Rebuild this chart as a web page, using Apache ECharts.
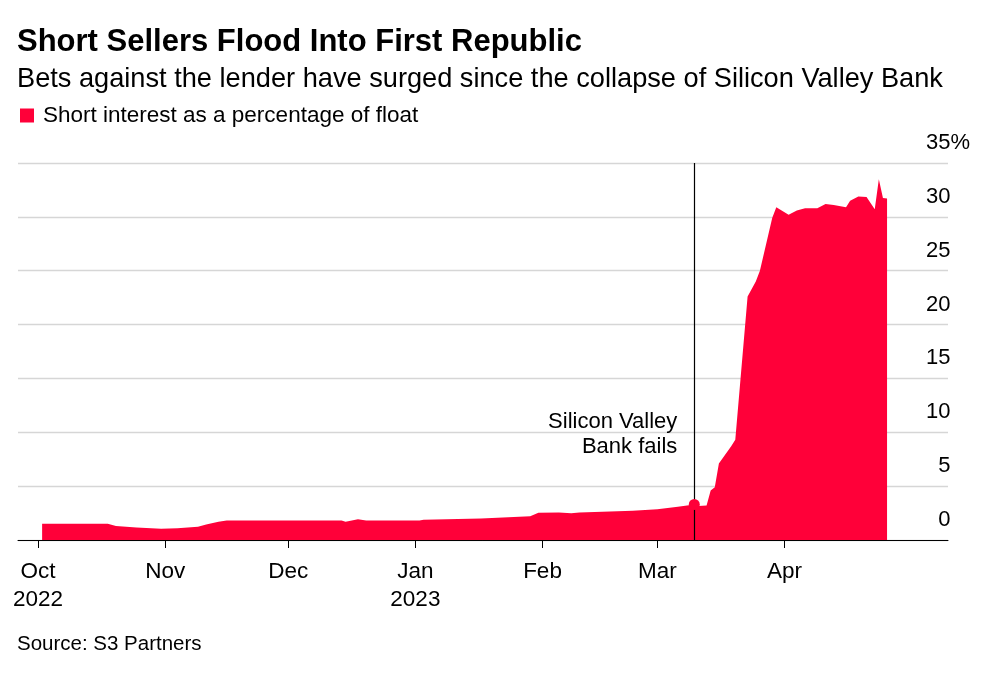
<!DOCTYPE html>
<html>
<head>
<meta charset="utf-8">
<script src="https://cdn.jsdelivr.net/npm/echarts@6/dist/echarts.min.js"></script>
<style>
  html, body { margin: 0; padding: 0; background: #fff; }
  #chart { width: 1000px; height: 678px; }
</style>
</head>
<body>
<div id="chart"></div>
<script>
// ---- Data ----
const dates = ['2022-10-02','2022-10-18','2022-10-20','2022-10-25','2022-10-31','2022-11-04','2022-11-09','2022-11-11','2022-11-14','2022-11-16',
  '2022-12-14','2022-12-15','2022-12-18','2022-12-20','2023-01-02','2023-01-03','2023-01-17','2023-01-29','2023-01-31','2023-02-05',
  '2023-02-08','2023-02-10','2023-02-23','2023-03-01','2023-03-06','2023-03-10','2023-03-11','2023-03-13','2023-03-14','2023-03-15',
  '2023-03-16','2023-03-19','2023-03-20','2023-03-23','2023-03-25','2023-03-26','2023-03-29','2023-03-30','2023-04-02','2023-04-04',
  '2023-04-06','2023-04-09','2023-04-11','2023-04-13','2023-04-16','2023-04-17','2023-04-19','2023-04-21','2023-04-23','2023-04-24',
  '2023-04-25','2023-04-26'];
const shortInterest = [1.5,1.5,1.3,1.15,1.05,1.08,1.22,1.45,1.7,1.8,
  1.8,1.7,1.92,1.8,1.8,1.88,2.0,2.2,2.53,2.55,
  2.48,2.55,2.72,2.85,3.09,3.3,3.15,3.2,4.6,4.9,
  7.1,8.7,9.3,22.6,24.0,25.0,29.9,30.9,30.2,30.6,
  30.8,30.8,31.2,31.1,30.9,31.5,31.9,31.85,30.7,33.5,
  31.75,31.7];
const monthTicks = ['2022-10-01','2022-11-01','2022-12-01','2023-01-01','2023-02-01','2023-03-01','2023-04-01'];
const monthLabels = ['Oct\n2022','Nov','Dec','Jan\n2023','Feb','Mar','Apr'];
const yTicks = [0,5,10,15,20,25,30,35];
const eventDate = '2023-03-10';
const eventValue = 3.3;
const eventLabel = 'Silicon Valley\nBank fails';
const seriesName = 'Short interest as a percentage of float';
const titleText = 'Short Sellers Flood Into First Republic';
const subtitleText = 'Bets against the lender have surged since the collapse of Silicon Valley Bank';
const sourceText = 'Source: S3 Partners';

// ---- Chart ----
const FONT = "'Liberation Sans', Arial, Helvetica, sans-serif";
const RED = '#ff0039';
const DAY = 86400000;
const parseLocal = s => { const p = s.split('-').map(Number); return new Date(p[0], p[1]-1, p[2]).getTime(); };
const oct1 = parseLocal('2022-10-01');
const xMin = oct1 - 4.88 * DAY;
const xMax = oct1 + 221.86 * DAY;
const tickVals = monthTicks.map(parseLocal);
const eventX = parseLocal(eventDate);

const chart = echarts.init(document.getElementById('chart'), null, { renderer: 'canvas' });
const option = {
  animation: false,
  backgroundColor: '#fff',
  textStyle: { fontFamily: FONT },
  title: [
    { text: titleText, left: 12, top: 22, textStyle: { fontFamily: FONT, fontSize: 31, fontWeight: 'bold', color: '#000' } },
    { text: subtitleText, left: 12, top: 61, textStyle: { fontFamily: FONT, fontSize: 27.2, fontWeight: 'normal', color: '#000' } },
    { text: sourceText, left: 12, top: 629, textStyle: { fontFamily: FONT, fontSize: 20.5, fontWeight: 'normal', color: '#000' } }
  ],
  legend: {
    left: 15, top: 99, icon: 'rect', itemWidth: 14, itemHeight: 14, itemGap: 9,
    textStyle: { fontFamily: FONT, fontSize: 22.5, color: '#000', padding: [0, 0, 0, 4] },
    data: [seriesName]
  },
  grid: { left: 18, right: 52, top: 163, bottom: 138, containLabel: false },
  xAxis: {
    type: 'value', min: xMin, max: xMax,
    axisLine: { show: true, onZero: false, lineStyle: { color: '#000', width: 1 } },
    axisTick: { show: true, customValues: tickVals, length: 8, lineStyle: { color: '#000', width: 1 } },
    axisLabel: {
      customValues: tickVals, margin: 18, fontFamily: FONT, fontSize: 22.5, color: '#000', lineHeight: 28,
      formatter: v => { const i = tickVals.indexOf(v); return i >= 0 ? monthLabels[i] : ''; }
    },
    splitLine: { show: false }
  },
  yAxis: {
    type: 'value', position: 'right', min: 0, max: 35, interval: 5,
    axisLine: { show: false }, axisTick: { show: false },
    splitLine: { show: true, lineStyle: { color: '#d6d6d6', width: 1.3 } },
    axisLabel: {
      align: 'right', margin: 22, verticalAlign: 'bottom', padding: [0, 0, 9, 0],
      formatter: v => v === 35 ? '{n|' + v + '}{p|%}' : '{n|' + v + '}{h|%}',
      rich: {
        n: { fontFamily: FONT, fontSize: 22, color: '#000' },
        p: { fontFamily: FONT, fontSize: 22, color: '#000' },
        h: { fontFamily: FONT, fontSize: 22, color: 'rgba(0,0,0,0)' }
      }
    }
  },
  series: [{
    name: seriesName, type: 'line', color: RED,
    data: dates.map((d, i) => [parseLocal(d), shortInterest[i]]),
    showSymbol: false, symbol: 'none',
    lineStyle: { width: 0 },
    areaStyle: { color: RED, opacity: 1 },
    markLine: {
      silent: true, symbol: 'none', animation: false,
      lineStyle: { color: '#000', width: 1.2, type: 'solid' },
      label: { show: false },
      data: [{ xAxis: eventX }]
    },
    markPoint: {
      silent: true, animation: false,
      symbol: 'circle', symbolSize: 11,
      itemStyle: { color: RED },
      label: { show: false },
      data: [{ coord: [eventX, eventValue] }]
    },
    z: 2
  }]
};
chart.setOption(option);

// annotation text anchored to the event date through the axis scale
const anchor = chart.convertToPixel({ gridIndex: 0 }, [eventX, 9.8]);
chart.setOption({
  graphic: [{
    type: 'text', x: anchor[0] - 17, y: anchor[1],
    style: { text: eventLabel, fontFamily: FONT, fontSize: 22, fill: '#000', align: 'right', verticalAlign: 'middle', lineHeight: 25 },
    z: 10
  }]
});
</script>
</body>
</html>
